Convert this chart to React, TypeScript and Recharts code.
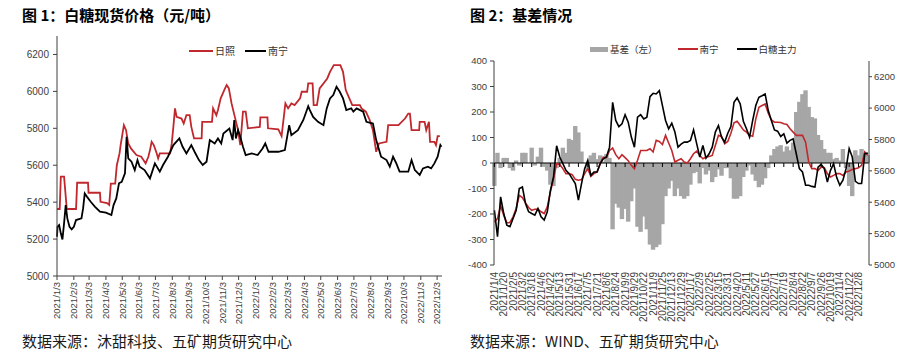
import { LineChart, Line, XAxis, YAxis, ComposedChart, Bar, ReferenceLine, Legend } from 'recharts';

const CN = '"Noto Sans CJK SC", "Noto Sans", sans-serif';
const NUM = '"Liberation Sans", Arial, sans-serif';
const RED = '#C0282E';
const GRAY = '#A6A6A6';
const AXIS = '#404040';

// ---- 图1 白糖现货价格 ----
const rzDates = [
  '2021-01-03', '2021-01-08', '2021-01-10', '2021-01-16', '2021-01-21', '2021-02-07', '2021-02-08', '2021-02-09',
  '2021-03-01', '2021-03-02', '2021-03-23', '2021-03-24', '2021-04-05', '2021-04-09', '2021-04-12', '2021-04-20',
  '2021-04-23', '2021-04-28', '2021-04-30', '2021-05-06', '2021-05-10', '2021-05-12', '2021-05-14', '2021-05-19',
  '2021-05-29', '2021-06-07', '2021-06-15', '2021-06-20', '2021-06-23', '2021-06-26', '2021-06-30', '2021-07-05',
  '2021-07-08', '2021-07-11', '2021-07-30', '2021-08-02', '2021-08-05', '2021-08-08', '2021-08-11', '2021-08-20',
  '2021-08-24', '2021-08-29', '2021-09-04', '2021-09-07', '2021-09-12', '2021-09-26', '2021-09-27', '2021-10-15',
  '2021-10-17', '2021-10-23', '2021-10-26', '2021-10-31', '2021-11-08', '2021-11-11', '2021-11-15', '2021-11-20',
  '2021-11-26', '2021-12-02', '2021-12-06', '2021-12-11', '2021-12-16', '2021-12-20', '2022-01-11', '2022-01-12',
  '2022-01-25', '2022-01-26', '2022-02-14', '2022-02-20', '2022-02-27', '2022-03-04', '2022-03-10', '2022-03-16',
  '2022-03-26', '2022-03-29', '2022-04-08', '2022-04-10', '2022-04-18', '2022-04-20', '2022-04-26', '2022-05-01',
  '2022-05-15', '2022-05-20', '2022-05-27', '2022-06-08', '2022-06-13', '2022-06-18', '2022-06-26', '2022-06-30',
  '2022-07-14', '2022-07-17', '2022-07-25', '2022-08-01', '2022-08-07', '2022-08-13', '2022-08-18', '2022-09-01',
  '2022-09-04', '2022-09-23', '2022-10-05', '2022-10-11', '2022-10-14', '2022-10-17', '2022-10-31', '2022-11-01',
  '2022-11-10', '2022-11-13', '2022-11-18', '2022-11-20', '2022-11-28', '2022-12-01', '2022-12-04', '2022-12-08',
];
const rzValues = [
  5363, 5363, 5538, 5538, 5363, 5363, 5430, 5505,
  5505, 5451, 5451, 5402, 5395, 5385, 5500, 5500,
  5600, 5664, 5709, 5817, 5790, 5754, 5718, 5691,
  5655, 5646, 5610, 5646, 5682, 5727, 5709, 5668,
  5637, 5664, 5664, 5718, 5808, 5908, 5862, 5853,
  5826, 5871, 5871, 5808, 5745, 5745, 5835, 5835,
  5908, 5871, 5899, 5962, 6016, 6034, 6016, 5935,
  5862, 5790, 5709, 5890, 5890, 5800, 5808, 5859,
  5859, 5800, 5794, 5758, 5935, 5908, 5935, 5926,
  5962, 5998, 5998, 6043, 6043, 5926, 5926, 6016,
  6070, 6106, 6142, 6142, 6106, 6007, 5953, 5926,
  5926, 5908, 5890, 5845, 5790, 5673, 5718, 5727,
  5817, 5817, 5853, 5880, 5880, 5790, 5790, 5835,
  5835, 5790, 5835, 5727, 5727, 5709, 5758, 5758,
];
const nnDates = [
  '2021-01-03', '2021-01-04', '2021-01-07', '2021-01-10', '2021-01-13', '2021-01-16', '2021-01-19', '2021-01-22',
  '2021-01-26', '2021-01-30', '2021-02-03', '2021-02-07', '2021-02-17', '2021-02-20', '2021-02-23', '2021-02-27',
  '2021-03-06', '2021-03-14', '2021-03-23', '2021-04-03', '2021-04-13', '2021-04-17', '2021-04-22', '2021-04-27',
  '2021-05-02', '2021-05-08', '2021-05-11', '2021-05-14', '2021-05-20', '2021-05-26', '2021-05-31', '2021-06-04',
  '2021-06-13', '2021-06-23', '2021-07-02', '2021-07-11', '2021-07-17', '2021-07-26', '2021-08-05', '2021-08-16',
  '2021-08-22', '2021-08-29', '2021-09-07', '2021-09-13', '2021-09-21', '2021-09-28', '2021-10-05', '2021-10-11',
  '2021-10-20', '2021-10-26', '2021-11-01', '2021-11-05', '2021-11-16', '2021-11-22', '2021-11-25', '2021-11-28',
  '2021-12-02', '2021-12-06', '2021-12-11', '2021-12-16', '2021-12-27', '2022-01-07', '2022-01-16', '2022-01-21',
  '2022-01-27', '2022-02-14', '2022-02-26', '2022-03-06', '2022-03-10', '2022-03-22', '2022-04-01', '2022-04-10',
  '2022-04-13', '2022-04-19', '2022-04-28', '2022-05-08', '2022-05-14', '2022-05-20', '2022-05-26', '2022-06-01',
  '2022-06-07', '2022-06-13', '2022-06-19', '2022-06-28', '2022-07-02', '2022-07-08', '2022-07-20', '2022-07-26',
  '2022-08-07', '2022-08-13', '2022-08-22', '2022-09-01', '2022-09-07', '2022-09-13', '2022-09-19', '2022-09-25',
  '2022-10-11', '2022-10-17', '2022-10-23', '2022-10-26', '2022-11-01', '2022-11-07', '2022-11-16', '2022-11-22',
  '2022-11-28', '2022-12-04', '2022-12-09', '2022-12-11',
];
const nnValues = [
  5213, 5267, 5276, 5231, 5198, 5285, 5384, 5312,
  5267, 5253, 5267, 5303, 5312, 5366, 5447, 5430,
  5402, 5375, 5348, 5343, 5330, 5384, 5420, 5502,
  5510, 5556, 5754, 5637, 5619, 5574, 5628, 5592,
  5574, 5529, 5610, 5565, 5601, 5646, 5709, 5745,
  5700, 5664, 5709, 5673, 5628, 5601, 5619, 5736,
  5718, 5745, 5718, 5772, 5799, 5736, 5845, 5745,
  5790, 5754, 5700, 5655, 5664, 5655, 5691, 5718,
  5673, 5673, 5682, 5817, 5763, 5790, 5845, 5920,
  5899, 5862, 5835, 5817, 5908, 5962, 5980, 6025,
  5998, 5962, 5899, 5908, 5890, 5908, 5890, 5835,
  5826, 5736, 5646, 5628, 5592, 5646, 5610, 5565,
  5565, 5628, 5574, 5565, 5547, 5583, 5592, 5583,
  5610, 5646, 5709, 5700,
];
const leftTickLabels = [
  '2021/1/3', '2021/2/3', '2021/3/3', '2021/4/3', '2021/5/3', '2021/6/3', '2021/7/3', '2021/8/3',
  '2021/9/3', '2021/10/3', '2021/11/3', '2021/12/3', '2022/1/3', '2022/2/3', '2022/3/3', '2022/4/3',
  '2022/5/3', '2022/6/3', '2022/7/3', '2022/8/3', '2022/9/3', '2022/10/3', '2022/11/3', '2022/12/3',
];
const leftYTicks = [5000, 5200, 5400, 5600, 5800, 6000, 6200];

// ---- 图2 基差情况 (每4个交易日取一个值) ----
const rightTickLabels = [
  '2021/1/4', '2021/1/20', '2021/2/5', '2021/3/2', '2021/3/18', '2021/4/6', '2021/4/22', '2021/5/13',
  '2021/5/31', '2021/6/17', '2021/7/5', '2021/7/21', '2021/8/6', '2021/8/24', '2021/9/9', '2021/9/29',
  '2021/10/22', '2021/11/9', '2021/11/25', '2021/12/13', '2021/12/29', '2022/1/17', '2022/2/9', '2022/2/25',
  '2022/3/15', '2022/3/31', '2022/4/20', '2022/5/11', '2022/5/27', '2022/6/15', '2022/7/1', '2022/7/19',
  '2022/8/4', '2022/8/22', '2022/9/7', '2022/9/26', '2022/10/19', '2022/11/4', '2022/11/22', '2022/12/8',
];
const TICK_EVERY = 12;
const SAMPLE_EVERY = 4;
const basis = [
  -90, 40, -20, 20, 20, -20, -30, 10, -10, 40,
  40, 0, 60, -10, 25, 60, -15, -30, -85, -90,
  -20, 20, 60, 40, 95, 90, 145, 120, 45, 0,
  -30, 30, 40, 15, 30, 5, 35, 20, -260, -160,
  -175, -220, -180, -230, -150, -100, -250, -270, -210, -260,
  -320, -340, -330, -320, -240, -130, -100, -70, -130, -100,
  -130, -140, -130, -85, -40, -35, -80, -20, -45, -30,
  -75, -55, -25, -50, -20, -20, -60, -140, -140, -130,
  -55, -30, -10, -45, -70, -95, -85, -60, -20, 30,
  55, 65, 70, 45, 65, 50, 80, 200, 240, 270,
  285, 220, 180, 175, 110, 90, 55, 40, 40, 15,
  20, 10, 55, -20, -90, -130, 50, 30, 55, 35,
  30,
];
const nanning = [
  5275, 5296, 5377, 5318, 5269, 5271, 5307, 5360, 5444, 5430,
  5396, 5366, 5349, 5355, 5357, 5339, 5328, 5370, 5466, 5550,
  5646, 5641, 5614, 5582, 5582, 5576, 5546, 5540, 5544, 5582,
  5614, 5565, 5582, 5593, 5646, 5688, 5684, 5730, 5745, 5703,
  5677, 5703, 5684, 5665, 5635, 5614, 5667, 5730, 5730, 5730,
  5741, 5720, 5794, 5787, 5768, 5826, 5777, 5730, 5656, 5667,
  5677, 5656, 5650, 5677, 5709, 5726, 5698, 5677, 5688, 5692,
  5698, 5762, 5826, 5819, 5773, 5787, 5840, 5906, 5916, 5889,
  5861, 5847, 5826, 5821, 5931, 6005, 6016, 6026, 5967, 5925,
  5910, 5910, 5908, 5900, 5895, 5868, 5847, 5826, 5826, 5826,
  5783, 5656, 5614, 5614, 5603, 5624, 5620, 5582, 5561, 5571,
  5582, 5582, 5571, 5593, 5599, 5609, 5614, 5620, 5635, 5720,
  5698,
];
const futures = [
  5349, 5180, 5434, 5328, 5254, 5244, 5296, 5349, 5487, 5497,
  5392, 5339, 5328, 5318, 5360, 5307, 5286, 5339, 5476, 5561,
  5760, 5688, 5646, 5603, 5582, 5550, 5519, 5413, 5519, 5614,
  5667, 5571, 5593, 5593, 5646, 5677, 5688, 5751, 6037, 5921,
  5882, 5900, 5958, 5910, 5815, 5751, 5942, 5958, 5931, 5942,
  6073, 6094, 6090, 6111, 6016, 5921, 5868, 5904, 5847, 5751,
  5770, 5783, 5783, 5794, 5861, 5773, 5688, 5762, 5681, 5709,
  5751, 5847, 5889, 5815, 5783, 5840, 5882, 6037, 6065, 6026,
  5916, 5868, 5815, 5921, 6016, 6069, 6079, 6090, 5984, 5921,
  5861, 5853, 5819, 5836, 5777, 5794, 5804, 5709, 5614, 5593,
  5508, 5508, 5501, 5497, 5624, 5641, 5614, 5529, 5603, 5646,
  5557, 5508, 5540, 5614, 5741, 5688, 5533, 5519, 5519, 5709,
  5713,
];
const basisTicks = [-400, -300, -200, -100, 0, 100, 200, 300, 400];
const priceTicks = [5000, 5200, 5400, 5600, 5800, 6000, 6200];

// helpers
const BASE = Date.UTC(2021, 0, 3);
const dayOf = (s: string) => {
  const [y, m, d] = s.split(/[-/]/).map(Number);
  return Math.round((Date.UTC(y, m - 1, d) - BASE) / 86400000);
};

const leftMap = new Map<number, { t: number; rz?: number; nn?: number }>();
rzDates.forEach((d, i) => {
  const t = dayOf(d);
  const row = leftMap.get(t) ?? { t };
  row.rz = rzValues[i];
  leftMap.set(t, row);
});
nnDates.forEach((d, i) => {
  const t = dayOf(d);
  const row = leftMap.get(t) ?? { t };
  row.nn = nnValues[i];
  leftMap.set(t, row);
});
const leftData = [...leftMap.values()].sort((a, b) => a.t - b.t);
const leftTickDays = leftTickLabels.map(dayOf);

const rightData = basis.map((b, i) => ({ x: i * SAMPLE_EVERY, basis: b, nanning: nanning[i], futures: futures[i] }));
const rightTickIdx = rightTickLabels.map((_, i) => i * TICK_EVERY);

// layout of the right plot (zero line sits mid-height)
const R_TOP = 61;
const R_BOTTOM = 265;
const ZERO_Y = (R_TOP + R_BOTTOM) / 2;

function LeftTick({ x, y, payload }: any) {
  const i = leftTickDays.indexOf(payload.value);
  return (
    <text x={x} y={y} transform={`rotate(-90 ${x} ${y})`} textAnchor="end" dy="0.35em"
      fontSize={9.5} fill={AXIS} fontFamily={NUM}>{leftTickLabels[i]}</text>
  );
}

function RightTick({ x, y, payload }: any) {
  const label = rightTickLabels[Math.round(payload.value / TICK_EVERY)];
  return (
    <g>
      <line x1={x} x2={x} y1={ZERO_Y} y2={ZERO_Y + 4} stroke="#000" strokeWidth={1} />
      <text x={x} y={y} transform={`rotate(-90 ${x} ${y})`} textAnchor="end" dy="0.35em"
        fontSize={10} fill={AXIS} fontFamily={NUM}>{label}</text>
    </g>
  );
}

// dense column look: widen each column a little so neighbours touch
function BasisBar(p: any) {
  if (p.height == null || p.width == null) return <g />;
  const top = Math.min(p.y, p.y + p.height);
  const h = Math.abs(p.height);
  return <rect x={p.x - 0.7} y={top} width={p.width + 1.4} height={h} fill={GRAY} />;
}

const lineSwatch = (color: string, w: number) => (
  <span style={{ display: 'inline-block', width: w, height: 2, background: color, verticalAlign: 'middle', marginRight: 2 }} />
);

const legendText = { fontFamily: CN, fontSize: 10, color: '#333', lineHeight: '14px', whiteSpace: 'nowrap' as const };

function LeftLegend() {
  return (
    <div style={legendText}>
      {lineSwatch(RED, 24)}<span style={{ verticalAlign: 'middle' }}>日照</span>
      <span style={{ display: 'inline-block', width: 10 }} />
      {lineSwatch('#000', 21)}<span style={{ verticalAlign: 'middle' }}>南宁</span>
    </div>
  );
}

function RightLegend() {
  return (
    <div style={{ ...legendText, fontSize: 9.5 }}>
      <span style={{ display: 'inline-block', width: 18, height: 5, background: GRAY, verticalAlign: 'middle', marginRight: 2 }} />
      <span style={{ verticalAlign: 'middle' }}>基差（左）</span>
      <span style={{ display: 'inline-block', width: 20 }} />
      {lineSwatch(RED, 20)}<span style={{ verticalAlign: 'middle' }}>南宁</span>
      <span style={{ display: 'inline-block', width: 18 }} />
      {lineSwatch('#000', 20)}<span style={{ verticalAlign: 'middle' }}>白糖主力</span>
    </div>
  );
}

const titleStyle = { position: 'absolute' as const, fontFamily: CN, fontWeight: 700, fontSize: 15, color: '#000', lineHeight: '18px', whiteSpace: 'nowrap' as const };
const sourceStyle = { position: 'absolute' as const, fontFamily: CN, fontSize: 15, color: '#1a1a1a', lineHeight: '18px', whiteSpace: 'nowrap' as const };

export default function App() {
  return (
    <div style={{ position: 'absolute', left: 0, top: 0, width: 912, height: 360, background: '#fff', overflow: 'hidden' }}>
      <div style={{ ...titleStyle, left: 22, top: 6 }}>图 1：白糖现货价格（元/吨）</div>
      <div style={{ ...titleStyle, left: 470, top: 6 }}>图 2：基差情况</div>

      <div style={{ position: 'absolute', left: 0, top: 0 }}>
        <LineChart width={450} height={360} data={leftData} margin={{ top: 36, right: 8, left: 0, bottom: 0 }}>
          <XAxis type="number" dataKey="t" domain={[0, 708]} ticks={leftTickDays} interval={0} height={84}
            tick={<LeftTick />} tickSize={4} tickMargin={2}
            axisLine={{ stroke: AXIS }} tickLine={{ stroke: AXIS }} />
          <YAxis domain={[5000, 6300]} ticks={leftYTicks} interval={0} width={57} tickSize={4} tickMargin={4}
            axisLine={{ stroke: AXIS }} tickLine={{ stroke: AXIS }}
            tick={{ fontSize: 10, fill: AXIS, fontFamily: NUM }} />
          <Legend content={<LeftLegend />} layout="horizontal" verticalAlign="middle" align="center"
            wrapperStyle={{ top: 43, left: 189, width: 'auto' }} />
          <Line dataKey="rz" stroke={RED} strokeWidth={1.8} dot={false} connectNulls isAnimationActive={false} />
          <Line dataKey="nn" stroke="#000" strokeWidth={1.8} dot={false} connectNulls isAnimationActive={false} />
        </LineChart>
      </div>

      <div style={{ position: 'absolute', left: 455, top: 0 }}>
        <ComposedChart width={457} height={360} data={rightData} margin={{ top: R_TOP, right: 0, left: 0, bottom: 0 }}
          barCategoryGap={0} barGap={0}>
          <XAxis type="number" dataKey="x" domain={[-0.5, 481.5]} ticks={rightTickIdx} interval={0}
            height={360 - R_BOTTOM} axisLine={false} tickLine={false} tickSize={0} tickMargin={7}
            tick={<RightTick />} />
          <YAxis yAxisId="l" domain={[-400, 400]} ticks={basisTicks} interval={0} width={39}
            tickSize={4} tickMargin={3} axisLine={{ stroke: AXIS }} tickLine={{ stroke: AXIS }}
            tick={{ fontSize: 9.5, fill: AXIS, fontFamily: NUM }} />
          <YAxis yAxisId="r" orientation="right" domain={[5000, 6300]} ticks={priceTicks} interval={0} width={43}
            tickSize={3} tickMargin={2} axisLine={{ stroke: AXIS }} tickLine={{ stroke: AXIS }}
            tick={{ fontSize: 9.5, fill: AXIS, fontFamily: NUM }} />
          <Legend content={<RightLegend />} layout="horizontal" verticalAlign="middle" align="center"
            wrapperStyle={{ top: 41, left: 135, width: 'auto' }} />
          <Bar yAxisId="l" dataKey="basis" fill={GRAY} barSize={3} shape={<BasisBar />} isAnimationActive={false} />
          <ReferenceLine yAxisId="l" y={0} stroke="#000" strokeWidth={1.2} />
          <Line yAxisId="r" dataKey="nanning" stroke={RED} strokeWidth={1.6} dot={false} isAnimationActive={false} />
          <Line yAxisId="r" dataKey="futures" stroke="#000" strokeWidth={1.6} dot={false} isAnimationActive={false} />
        </ComposedChart>
      </div>

      <div style={{ ...sourceStyle, left: 22, top: 332 }}>数据来源：沐甜科技、五矿期货研究中心</div>
      <div style={{ ...sourceStyle, left: 470, top: 332 }}>数据来源：WIND、五矿期货研究中心</div>
    </div>
  );
}
